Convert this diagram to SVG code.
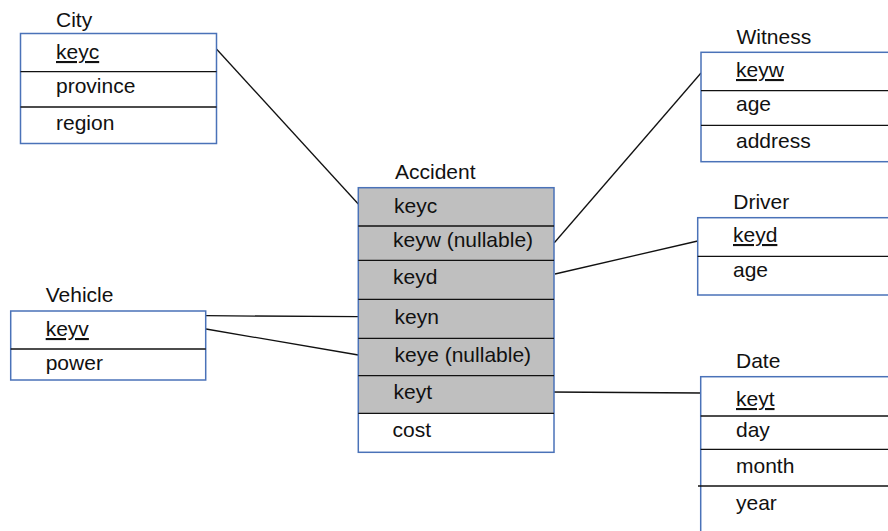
<svg xmlns="http://www.w3.org/2000/svg" width="888" height="531" viewBox="0 0 888 531">
  <style>
    text { font-family: "Liberation Sans", Arial, sans-serif; font-size: 21px; fill: #111; }
    .key { text-decoration: underline; }
    .box { fill: #fff; stroke: #4a72b8; stroke-width: 1.5; }
    .gray { fill: #bfbfbf; }
    .div { stroke: #111; stroke-width: 1.3; }
    .link { stroke: #111; stroke-width: 1.3; fill: none; }
  </style>

  <!-- connectors -->
  <g id="connectors">
    <line class="link" x1="216.7" y1="49.3" x2="358.3" y2="204"/>
    <line class="link" x1="554.3" y1="242.7" x2="701" y2="73"/>
    <line class="link" x1="555" y1="274" x2="697.7" y2="241"/>
    <line class="link" x1="206" y1="315.7" x2="358.3" y2="316.7"/>
    <line class="link" x1="206" y1="329" x2="358.3" y2="355"/>
    <line class="link" x1="550" y1="392" x2="700.7" y2="393"/>
  </g>

  <!-- City -->
  <g id="city">
    <text x="56" y="27">City</text>
    <rect class="box" x="20.5" y="33.5" width="196" height="110"/>
    <line class="div" x1="20.5" y1="71.7" x2="216.5" y2="71.7"/>
    <line class="div" x1="20.5" y1="107" x2="216.5" y2="107"/>
    <text class="key" x="56" y="59">keyc</text>
    <text x="56" y="93">province</text>
    <text x="56" y="130">region</text>
  </g>

  <!-- Accident -->
  <g id="accident">
    <text x="395" y="179">Accident</text>
    <rect class="gray" x="358.3" y="187.7" width="195.7" height="225.6"/>
    <rect x="358.3" y="187.7" width="195.7" height="264.6" fill="none" stroke="#4a72b8" stroke-width="1.5"/>
    <line class="div" x1="358.3" y1="226" x2="554" y2="226"/>
    <line class="div" x1="358.3" y1="260.3" x2="554" y2="260.3"/>
    <line class="div" x1="358.3" y1="299.3" x2="554" y2="299.3"/>
    <line class="div" x1="358.3" y1="338.3" x2="554" y2="338.3"/>
    <line class="div" x1="358.3" y1="375.7" x2="554" y2="375.7"/>
    <line class="div" x1="358.3" y1="413.3" x2="554" y2="413.3"/>
    <text x="394" y="213">keyc</text>
    <text x="393" y="247">keyw (nullable)</text>
    <text x="393" y="284">keyd</text>
    <text x="394.5" y="324">keyn</text>
    <text x="394.5" y="362">keye (nullable)</text>
    <text x="393.5" y="399">keyt</text>
    <text x="392.5" y="437">cost</text>
  </g>

  <!-- Witness -->
  <g id="witness">
    <text x="736.5" y="44">Witness</text>
    <rect class="box" x="701" y="52.3" width="200" height="109.4"/>
    <line class="div" x1="701" y1="90.7" x2="888" y2="90.7"/>
    <line class="div" x1="701" y1="125.3" x2="888" y2="125.3"/>
    <text class="key" x="736" y="77">keyw</text>
    <text x="736" y="111">age</text>
    <text x="736" y="148">address</text>
  </g>

  <!-- Driver -->
  <g id="driver">
    <text x="733.3" y="208.5">Driver</text>
    <rect class="box" x="697.7" y="217.7" width="200" height="77.3"/>
    <line class="div" x1="697.7" y1="256.3" x2="888" y2="256.3"/>
    <text class="key" x="733" y="242">keyd</text>
    <text x="733" y="277">age</text>
  </g>

  <!-- Vehicle -->
  <g id="vehicle">
    <text x="45.7" y="301.7">Vehicle</text>
    <rect class="box" x="10.7" y="311" width="195" height="69"/>
    <line class="div" x1="10.7" y1="349" x2="205.7" y2="349"/>
    <text class="key" x="45.7" y="336">keyv</text>
    <text x="45.7" y="369.5">power</text>
  </g>

  <!-- Date -->
  <g id="date">
    <text x="736" y="367.5">Date</text>
    <rect class="box" x="700.7" y="376.7" width="200" height="170"/>
    <line class="div" x1="700.7" y1="416" x2="888" y2="416"/>
    <line class="div" x1="700.7" y1="449.3" x2="888" y2="449.3"/>
    <line class="div" x1="698" y1="486" x2="888" y2="486"/>
    <text class="key" x="736" y="406">keyt</text>
    <text x="736" y="437">day</text>
    <text x="736" y="473">month</text>
    <text x="736" y="509.5">year</text>
  </g>
</svg>
